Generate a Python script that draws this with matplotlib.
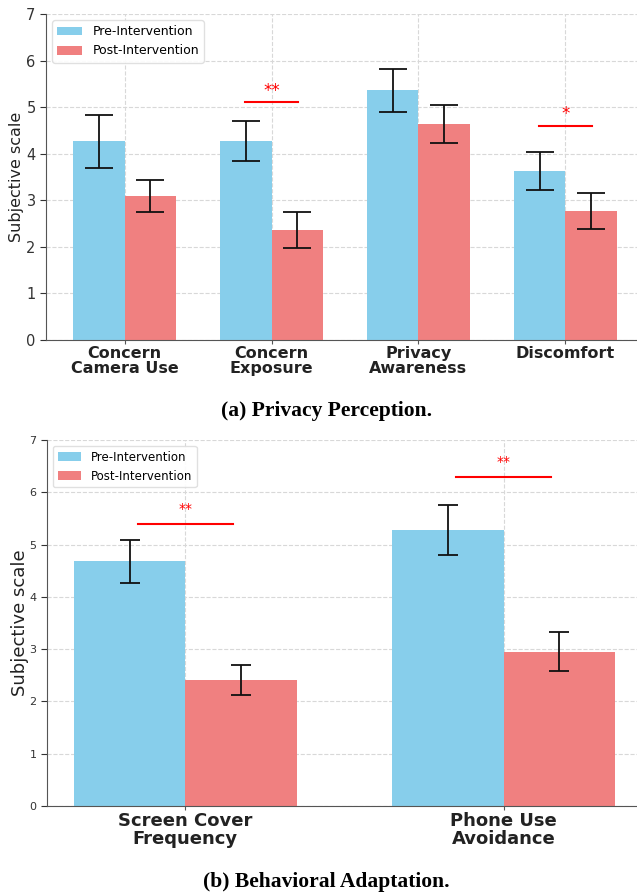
import numpy as np
import matplotlib
matplotlib.use("Agg")
import matplotlib.pyplot as plt

# (a) Privacy Perception
cats_a = ["Concern\nCamera Use", "Concern\nExposure", "Privacy\nAwareness", "Discomfort"]
pre_a = [4.27, 4.27, 5.36, 3.63]
pre_a_err = [0.57, 0.43, 0.46, 0.40]
post_a = [3.09, 2.36, 4.64, 2.77]
post_a_err = [0.34, 0.39, 0.41, 0.38]
sig_a = [(1, 5.1, "**"), (3, 4.6, "*")]

# (b) Behavioral Adaptation
cats_b = ["Screen Cover\nFrequency", "Phone Use\nAvoidance"]
pre_b = [4.68, 5.28]
pre_b_err = [0.41, 0.47]
post_b = [2.41, 2.95]
post_b_err = [0.28, 0.37]
sig_b = [(0, 5.4, "**"), (1, 6.3, "**")]

pre_col = "#87CEEB"
post_col = "#F08080"
W = 637 / 100
H = 894 / 100


def panel(ax, cats, pre, pre_err, post, post_err, sig, capsize, lab_fs,
          tick_fs, ylab_fs, ylab_pad, leg_fs, half, star_fs, star_off):
    x = np.arange(len(cats))
    w = 0.35
    ax.bar(x - w / 2, pre, w, yerr=pre_err, capsize=capsize, color=pre_col,
           label="Pre-Intervention", error_kw=dict(elinewidth=1.3, capthick=1.3, ecolor="#111111"))
    ax.bar(x + w / 2, post, w, yerr=post_err, capsize=capsize, color=post_col,
           label="Post-Intervention", error_kw=dict(elinewidth=1.3, capthick=1.3, ecolor="#111111"))
    for i, yv, s in sig:
        ax.plot([x[i] - half, x[i] + half], [yv, yv], color="red", lw=1.5)
        ax.text(x[i], yv + star_off, s, color="red", ha="center", va="center",
                fontsize=star_fs)
    ax.set_ylim(0, 7)
    m = 0.05 * (len(cats) - 1 + 0.7)
    ax.set_xlim(-0.35 - m, len(cats) - 1 + 0.35 + m)
    ax.set_yticks(range(8))
    ax.set_xticks(x)
    ax.set_xticklabels(cats, fontweight="bold", fontsize=lab_fs, color="#222222",
                       linespacing=1.05)
    ax.tick_params(axis="y", labelsize=tick_fs, colors="#333333", length=4)
    ax.tick_params(axis="x", length=3, color="#555555", pad=1)
    ax.set_ylabel("Subjective scale", fontsize=ylab_fs, color="#222222", labelpad=ylab_pad)
    ax.set_axisbelow(True)
    ax.grid(True, linestyle="--", color="#d8d8d8", linewidth=0.8)
    for s in ["top", "right"]:
        ax.spines[s].set_visible(False)
    for s in ["left", "bottom"]:
        ax.spines[s].set_color("#555555")
    ax.legend(loc="upper left", fontsize=leg_fs, framealpha=0.9, edgecolor="#dddddd")


fig = plt.figure(figsize=(W, H), dpi=100)

ax1 = fig.add_axes([46 / 637, (894 - 340) / 894, 598 / 637, 326 / 894])
panel(ax1, cats_a, pre_a, pre_a_err, post_a, post_a_err, sig_a, 10, 11.5,
      10.5, 11.5, 1.5, 9, 0.18, 12, 0.25)

ax2 = fig.add_axes([47 / 637, (894 - 806) / 894, 595 / 637, 366 / 894])
panel(ax2, cats_b, pre_b, pre_b_err, post_b, post_b_err, sig_b, 7, 13,
      8, 13, 0.5, 8.5, 0.15, 10, 0.28)

fig.text(0.513, 1 - 411 / 894, "(a) Privacy Perception.", ha="center", va="center",
         fontsize=15.5, fontweight="bold", family="Liberation Serif")
fig.text(0.513, 1 - 882 / 894, "(b) Behavioral Adaptation.", ha="center", va="center",
         fontsize=15.5, fontweight="bold", family="Liberation Serif")

fig.savefig("out.png", dpi=100)
